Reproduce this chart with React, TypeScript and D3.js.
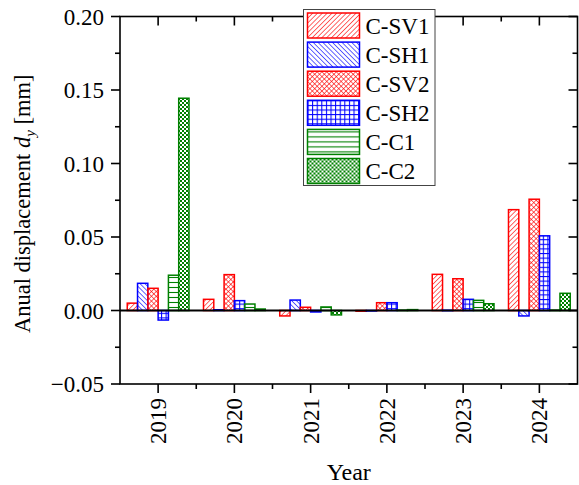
import React from "react";
import * as d3 from "d3";

// Annual displacement d_y per monitoring point and year
const years = [2019, 2020, 2021, 2022, 2023, 2024];
const seriesNames = ["C-SV1", "C-SH1", "C-SV2", "C-SH2", "C-C1", "C-C2"];
const valuesSV1 = [0.005, 0.0076, -0.0037, -0.0005, 0.0246, 0.0686];
const valuesSH1 = [0.0185, 0.0005, 0.0071, -0.0003, 0.0002, -0.0037];
const valuesSV2 = [0.0151, 0.0244, 0.0022, 0.0053, 0.0216, 0.0757];
const valuesSH2 = [-0.0065, 0.0067, -0.001, 0.0053, 0.0076, 0.0508];
const valuesC1 = [0.024, 0.0044, 0.0024, 0.0003, 0.0069, 0.0003];
const valuesC2 = [0.1444, 0.001, -0.003, 0.0006, 0.0046, 0.0117];
const seriesValues = [valuesSV1, valuesSH1, valuesSV2, valuesSH2, valuesC1, valuesC2];
const yTicks = [-0.05, 0, 0.05, 0.1, 0.15, 0.2];
const yTickLabels = ["\u22120.05", "0.00", "0.05", "0.10", "0.15", "0.20"];

const RED = "#ff0000";
const BLUE = "#0000ff";
const GREEN = "#008000";
const seriesColors = [RED, BLUE, RED, BLUE, GREEN, GREEN];
const patternIds = ["pSV1", "pSH1", "pSV2", "pSH2", "pC1", "pC2"];

const W = 579;
const H = 485;
const left = 120;
const right = 577.5;
const top = 16.5;
const bottom = 384;
const FONT = '"Liberation Serif", "Times New Roman", serif';
const textStyle = { fontFamily: FONT };

function Patterns() {
  return (
    <defs>
      <pattern id="pSV1" width="3.4" height="3.4" patternUnits="userSpaceOnUse" patternTransform="rotate(45)">
        <line x1="0" y1="0" x2="0" y2="3.4" stroke={RED} strokeWidth="1.2" />
      </pattern>
      <pattern id="pSH1" width="3.4" height="3.4" patternUnits="userSpaceOnUse" patternTransform="rotate(-45)">
        <line x1="0" y1="0" x2="0" y2="3.4" stroke={BLUE} strokeWidth="1.2" />
      </pattern>
      <pattern id="pSV2" width="3.4" height="3.4" patternUnits="userSpaceOnUse" patternTransform="rotate(45)">
        <line x1="0" y1="0" x2="0" y2="3.4" stroke={RED} strokeWidth="1.2" />
        <line x1="0" y1="0" x2="3.4" y2="0" stroke={RED} strokeWidth="1.2" />
      </pattern>
      <pattern id="pSH2" width="4.6" height="4.6" patternUnits="userSpaceOnUse">
        <line x1="0.5" y1="0" x2="0.5" y2="4.6" stroke={BLUE} strokeWidth="1.1" />
        <line x1="0" y1="0.5" x2="4.6" y2="0.5" stroke={BLUE} strokeWidth="1.1" />
      </pattern>
      <pattern id="pC1" width="5" height="5" patternUnits="userSpaceOnUse">
        <line x1="0" y1="2.5" x2="5" y2="2.5" stroke={GREEN} strokeWidth="1.1" />
      </pattern>
      <pattern id="pC2" width="4" height="4" patternUnits="userSpaceOnUse">
        <rect width="4" height="4" fill="#fff" />
        <rect x="0" y="0" width="2" height="2" fill={GREEN} />
        <rect x="2" y="2" width="2" height="2" fill={GREEN} />
      </pattern>
    </defs>
  );
}

export default function App() {
  const x = d3.scaleLinear().domain([2018.5, 2024.5]).range([left, right]);
  const y = d3.scaleLinear().domain([-0.05, 0.2]).range([bottom, top]);
  const groupHalf = (x(2020) - x(2019)) * 0.405;
  const xSub = d3.scaleBand<string>().domain(seriesNames).range([-groupHalf, groupHalf]).padding(0);
  const bw = xSub.bandwidth();

  const yMinor = d3.range(-0.025, 0.2, 0.05);
  const xMinor = d3.range(2019.5, 2024.5, 1);

  const legendX = 303.5;
  const legendY = 9.5;
  const rowH = 29.1;

  return (
    <svg
      width={W}
      height={H}
      viewBox={`0 0 ${W} ${H}`}
      style={{ position: "absolute", left: 0, top: 0, background: "#fff", fontFamily: FONT }}
    >
      <Patterns />
      <rect width={W} height={H} fill="#fff" />

      {/* bars */}
      {seriesNames.map((name, si) =>
        years.map((yr, yi) => {
          const v = seriesValues[si][yi];
          const x0 = x(yr) + (xSub(name) as number);
          const y0 = Math.min(y(v), y(0));
          const h = Math.abs(y(v) - y(0));
          return (
            <rect
              key={`${name}-${yr}`}
              x={x0}
              y={y0}
              width={bw}
              height={Math.max(h, 0.5)}
              fill={`url(#${patternIds[si]})`}
              stroke={seriesColors[si]}
              strokeWidth={1.5}
            />
          );
        })
      )}

      {/* zero line */}
      <line x1={left} x2={right} y1={y(0)} y2={y(0)} stroke="#000" strokeWidth={2} />

      {/* frame */}
      <rect x={left} y={top} width={right - left} height={bottom - top} fill="none" stroke="#000" strokeWidth={1.6} />

      {/* left / right axis ticks and labels */}
      {yTicks.map((t, i) => (
        <g key={`yt${t}`}>
          <line x1={left - 9} x2={left} y1={y(t)} y2={y(t)} stroke="#000" strokeWidth={1.6} />
          <line x1={right - 9} x2={right} y1={y(t)} y2={y(t)} stroke="#000" strokeWidth={1.6} />
          <text x={left - 16} y={y(t)} dy="0.35em" textAnchor="end" fontSize={23} style={textStyle}>
            {yTickLabels[i]}
          </text>
        </g>
      ))}
      {yMinor.map((t) => (
        <g key={`ym${t}`}>
          <line x1={left - 5} x2={left} y1={y(t)} y2={y(t)} stroke="#000" strokeWidth={1.6} />
          <line x1={right - 5} x2={right} y1={y(t)} y2={y(t)} stroke="#000" strokeWidth={1.6} />
        </g>
      ))}

      {/* bottom / top axis ticks and labels */}
      {years.map((yr) => (
        <g key={`xt${yr}`}>
          <line x1={x(yr)} x2={x(yr)} y1={bottom} y2={bottom + 9} stroke="#000" strokeWidth={1.6} />
          <line x1={x(yr)} x2={x(yr)} y1={top} y2={top + 9} stroke="#000" strokeWidth={1.6} />
          <text
            transform={`translate(${x(yr)},${bottom + 14}) rotate(-90)`}
            textAnchor="end"
            dy="0.35em"
            fontSize={23}
            style={textStyle}
          >
            {yr}
          </text>
        </g>
      ))}
      {xMinor.map((t) => (
        <g key={`xm${t}`}>
          <line x1={x(t)} x2={x(t)} y1={bottom} y2={bottom + 5} stroke="#000" strokeWidth={1.6} />
          <line x1={x(t)} x2={x(t)} y1={top} y2={top + 5} stroke="#000" strokeWidth={1.6} />
        </g>
      ))}

      {/* axis titles */}
      <text x={(left + right) / 2} y={480} textAnchor="middle" fontSize={24} style={textStyle}>
        Year
      </text>
      <text
        transform={`translate(30,${(top + bottom) / 2 + 3.5}) rotate(-90)`}
        textAnchor="middle"
        fontSize={22.5}
        style={textStyle}
      >
        Anual displacement <tspan fontStyle="italic">d</tspan>
        <tspan fontStyle="italic" fontSize={15} dy="5">y</tspan>
        <tspan dy="-5"> [mm]</tspan>
      </text>

      {/* legend */}
      <rect x={legendX} y={legendY} width={131.5} height={176} fill="#fff" stroke="#444" strokeWidth={1} />
      {seriesNames.map((name, i) => (
        <g key={`lg${name}`} transform={`translate(${legendX + 4},${legendY + 3.5 + i * rowH})`}>
          <rect
            x={0}
            y={0}
            width={52}
            height={25}
            fill={`url(#${patternIds[i]})`}
            stroke={seriesColors[i]}
            strokeWidth={1.5}
          />
          <text x={58} y={20.5} fontSize={23} style={textStyle}>
            {name}
          </text>
        </g>
      ))}
    </svg>
  );
}
